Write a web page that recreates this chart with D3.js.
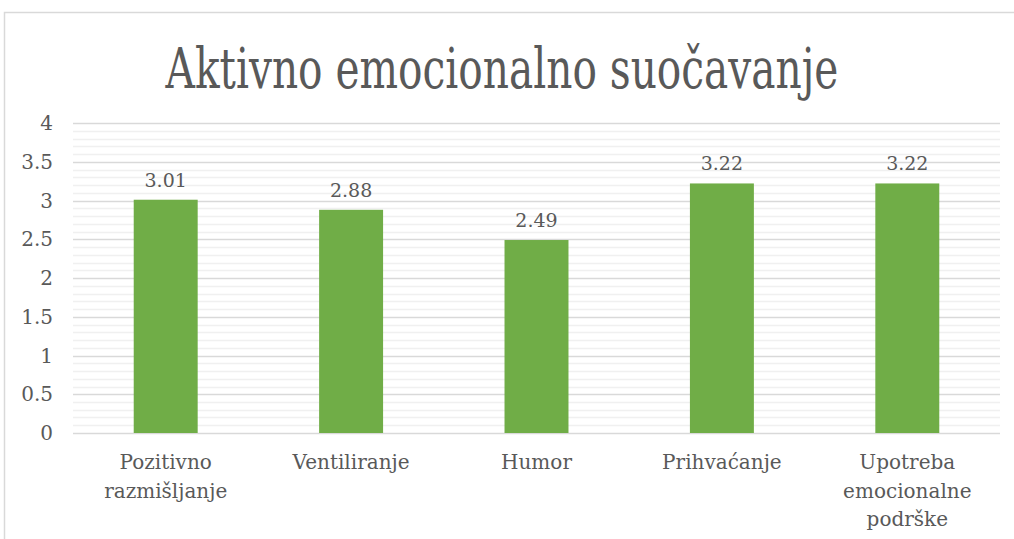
<!DOCTYPE html>
<html>
<head>
<meta charset="utf-8">
<script src="https://cdn.jsdelivr.net/npm/d3@7"></script>
<style>
  body { margin: 0; background: #fff; }
</style>
</head>
<body>
<svg width="1014" height="539"></svg>
<script>
const title = "Aktivno emocionalno suočavanje"
const categories = ["Pozitivno razmišljanje", "Ventiliranje", "Humor", "Prihvaćanje", "Upotreba emocionalne podrške"]
const values = [3.01, 2.88, 2.49, 3.22, 3.22]
const yTicks = [0, 0.5, 1, 1.5, 2, 2.5, 3, 3.5, 4]

var svg = d3.select("svg"),
	width = +svg.attr("width"),
	height = +svg.attr("height")

// Liberation Serif falls back to a sans face here, DejaVu Serif is the serif we get
svg.attr("font-family", "'DejaVu Serif', serif")
	.attr("fill", "#595959")

const margin = { left: 73, right: 14, top: 123, bottom: 106 }

// chart frame
svg.append("rect")
	.attr("x", 4.5).attr("y", 12.5)
	.attr("width", 1030).attr("height", 560)
	.attr("fill", "none").attr("stroke", "#d9d9d9").attr("stroke-width", 1.5)

// title, squeezed horizontally to the reference width
var titleEl = svg.append("text")
	.attr("text-anchor", "middle")
	.attr("font-size", 56)
	.text(title)
var tw = titleEl.node().getComputedTextLength()
titleEl.attr("transform", `translate(502,88) scale(${673 / tw},1)`)

var x = d3.scaleBand()
	.domain(categories)
	.range([margin.left, width - margin.right])
	.paddingInner(0.655)
	.paddingOuter(0.3275)

var y = d3.scaleLinear()
	.domain([0, 4])
	.range([height - margin.bottom, margin.top])

// minor grid every 0.1
var minor = d3.range(1, 40).filter(i => i % 5 !== 0).map(i => i / 10)
svg.append("g").selectAll("line").data(minor).enter().append("line")
	.attr("x1", margin.left).attr("x2", width - margin.right)
	.attr("y1", d => Math.round(y(d)) + 0.5).attr("y2", d => Math.round(y(d)) + 0.5)
	.attr("stroke", "#f0f0f0").attr("stroke-width", 1.5)

// major grid
svg.append("g").selectAll("line").data(yTicks).enter().append("line")
	.attr("x1", margin.left).attr("x2", width - margin.right)
	.attr("y1", d => Math.round(y(d)) + 0.5).attr("y2", d => Math.round(y(d)) + 0.5)
	.attr("stroke", "#d9d9d9").attr("stroke-width", 1.5)

// y tick labels
svg.append("g").selectAll("text").data(yTicks).enter().append("text")
	.attr("x", 53).attr("y", d => y(d) + 7)
	.attr("text-anchor", "end")
	.attr("font-size", 20)
	.text(d => d)

// bars
svg.append("g").selectAll("rect").data(values).enter().append("rect")
	.attr("x", (d, i) => x(categories[i]))
	.attr("width", x.bandwidth())
	.attr("y", d => y(d))
	.attr("height", d => y(0) - y(d))
	.attr("fill", "#70ad47")

// value labels
svg.append("g").selectAll("text").data(values).enter().append("text")
	.attr("x", (d, i) => x(categories[i]) + x.bandwidth() / 2)
	.attr("y", d => y(d) - 13)
	.attr("text-anchor", "middle")
	.attr("font-size", 19)
	.text(d => d.toFixed(2))

// category labels, wrapped
function wrapWords(str, maxW, measure) {
	const words = str.split(" ")
	const lines = []
	let cur = ""
	words.forEach(w => {
		const t = cur ? cur + " " + w : w
		if (cur && measure(t) > maxW) { lines.push(cur); cur = w }
		else cur = t
	})
	lines.push(cur)
	return lines
}
var probe = svg.append("text").attr("font-size", 20)
function measure(s) { probe.text(s); return probe.node().getComputedTextLength() }

var catG = svg.append("g")
categories.forEach(c => {
	const lines = wrapWords(c, 150, measure)
	const t = catG.append("text")
		.attr("x", x(c) + x.bandwidth() / 2)
		.attr("y", 469)
		.attr("text-anchor", "middle")
		.attr("font-size", 20)
	lines.forEach((l, i) => {
		t.append("tspan").attr("x", x(c) + x.bandwidth() / 2).attr("dy", i ? 28.5 : 0).text(l)
	})
})
probe.remove()
</script>
</body>
</html>
